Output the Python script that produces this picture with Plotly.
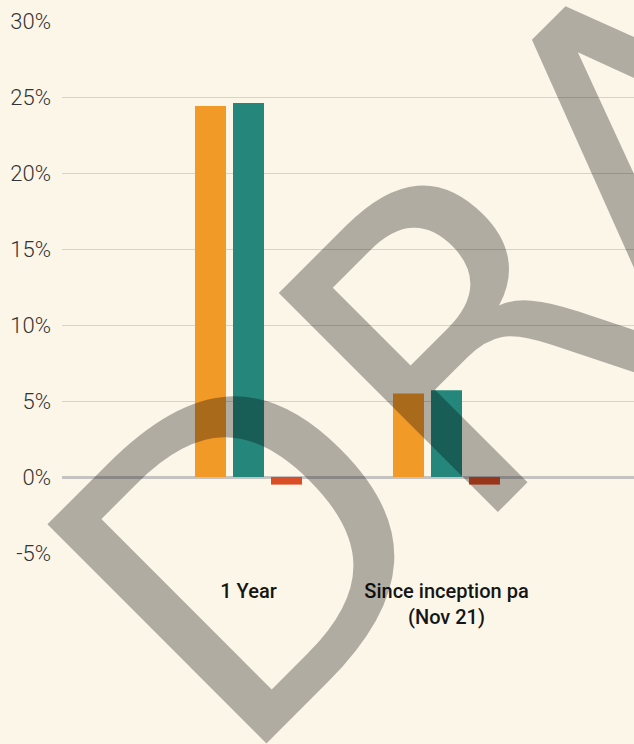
import plotly.graph_objects as go

# Performance periods and returns (%)
periods = ["1 Year", "Since inception pa<br>(Nov 21)"]
fund_returns = [24.4, 5.5]
benchmark_returns = [24.6, 5.7]
excess_returns = [-0.5, -0.5]

y_tick_values = [-5, 0, 5, 10, 15, 20, 25, 30]
y_tick_labels = ["-5%", "0%", "5%", "10%", "15%", "20%", "25%", "30%"]

ORANGE = "#F29A28"
TEAL = "#25877B"
RED = "#DA4E27"
BG = "#FCF6E9"

fig = go.Figure()
fig.add_bar(x=periods, y=fund_returns, name="Fund", marker_color=ORANGE,
            marker_line_width=0)
fig.add_bar(x=periods, y=benchmark_returns, name="Benchmark", marker_color=TEAL,
            marker_line_width=0)
fig.add_bar(x=periods, y=excess_returns, name="Excess", marker_color=RED,
            marker_line_width=0)

# Watermark across the chart
fig.add_annotation(
    text="DRAFT", xref="paper", yref="paper", x=0.9895, y=0.7124,
    xanchor="center", yanchor="middle", showarrow=False, textangle=-45,
    font=dict(family="DejaVu Sans", size=425, color="rgba(0,0,0,0.30)"),
)

fig.update_layout(
    width=634, height=744,
    margin=dict(l=62, r=0, t=21, b=191),
    paper_bgcolor=BG, plot_bgcolor=BG,
    barmode="group", bargap=0.424, bargroupgap=0.184,
    showlegend=False, hovermode=False,
    xaxis=dict(
        type="category", range=[-0.942, 1.947], showgrid=False,
        zeroline=False, showline=False, ticks="",
        tickfont=dict(family="Roboto", size=20, color="#151515", weight=500),
        ticklabelstandoff=24,
    ),
    yaxis=dict(
        range=[-5, 30], tickvals=y_tick_values, ticktext=y_tick_labels,
        showgrid=True, gridcolor="#D4D3D1", gridwidth=1.3,
        zeroline=True, zerolinecolor="#C4C3C1", zerolinewidth=2.6,
        showline=False, ticks="",
        tickfont=dict(family="Roboto", size=22, color="#333333", weight=300),
        ticklabelstandoff=10,
    ),
)

fig.write_html("out.html")
